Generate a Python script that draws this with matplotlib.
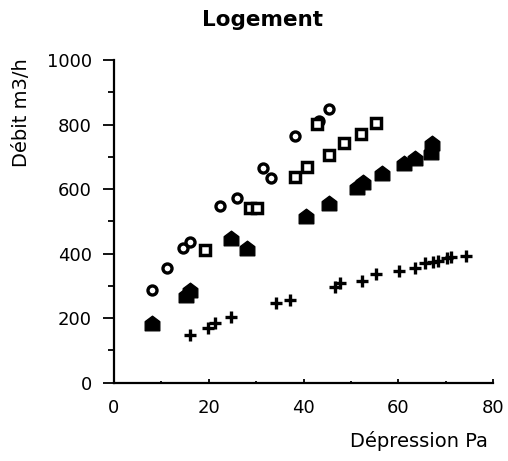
import numpy as np
import matplotlib
matplotlib.use("Agg")
import matplotlib.pyplot as plt
from matplotlib.path import Path

# values (Pa, m3/h)
circle_x = [7.95, 11.1, 14.6, 16.0, 22.4, 26.0, 31.4, 33.1, 38.2, 43.2, 45.4]
circle_y = [287, 356, 418, 437, 548, 571, 664, 633, 764, 812, 848]

square_x = [19.2, 28.7, 30.1, 38.2, 40.7, 42.9, 45.4, 48.6, 52.1, 55.4]
square_y = [411, 540, 540, 638, 669, 803, 706, 742, 770, 804]

house_x = [7.95, 15.3, 16.0, 24.8, 28.1, 40.5, 45.4, 51.2, 52.5, 56.5, 61.2, 63.5, 67.0, 67.2]
house_y = [184, 272, 287, 447, 416, 518, 556, 607, 621, 649, 680, 695, 716, 742]

plus_x = [16.0, 19.9, 21.3, 24.8, 34.2, 37.1, 46.6, 47.7, 52.3, 55.4, 60.1, 63.5,
          65.6, 67.4, 68.4, 70.2, 71.2, 74.4]
plus_y = [148, 169, 184, 205, 248, 256, 297, 308, 316, 336, 347, 354,
          370, 375, 378, 385, 390, 393]

x_ticks = [0, 20, 40, 60, 80]
y_ticks = [0, 200, 400, 600, 800, 1000]

plt.rcParams['font.family'] = ['DejaVu Sans']

# little "house" shaped marker for the filled series
house = Path([(-1, -1), (1, -1), (1, 0.25), (0, 1), (-1, 0.25), (-1, -1)],
             [Path.MOVETO, Path.LINETO, Path.LINETO, Path.LINETO, Path.LINETO, Path.CLOSEPOLY])

fig = plt.figure(figsize=(5.08, 4.61), dpi=100)
ax = fig.add_axes([0.2244, 0.1699, 0.7461, 0.6999])

ax.plot(circle_x, circle_y, 'o', ms=6.5, mfc='white', mec='black', mew=2.4, ls='none')
ax.plot(square_x, square_y, 's', ms=6.8, mfc='white', mec='black', mew=2.5, ls='none')
ax.plot(house_x, house_y, marker=house, ms=10.5, color='black', ls='none')
ax.plot(plus_x, plus_y, '+', ms=9, color='black', mew=2.4, ls='none')

ax.set_xlim(0, 80)
ax.set_ylim(0, 1000)
ax.set_xticks(x_ticks)
ax.set_xticks(np.arange(10, 80, 20), minor=True)
ax.set_yticks(y_ticks)
ax.set_yticks(np.arange(100, 1000, 200), minor=True)

for s in ['top', 'right']:
    ax.spines[s].set_visible(False)
for s in ['left', 'bottom']:
    ax.spines[s].set_linewidth(1.6)

ax.tick_params(axis='x', which='major', direction='in', length=3, width=1.3, pad=12, labelsize=13)
ax.tick_params(axis='x', which='minor', direction='in', length=1.5, width=1.3)
ax.tick_params(axis='y', which='major', direction='out', length=8, width=1.3, pad=8, labelsize=13)
ax.tick_params(axis='y', which='minor', direction='out', length=4, width=1.3)
for lab in ax.get_xticklabels() + ax.get_yticklabels():
    lab.set_fontweight('medium')

fig.text(263 / 508, 1 - 20 / 461, 'Logement', ha='center', va='center',
         fontsize=15.5, fontweight='bold')
fig.text(22 / 508, 1 - 113 / 461, 'Débit m3/h', rotation=90, ha='center', va='center',
         fontsize=14)
fig.text(488 / 508, 1 - 441 / 461, 'Dépression Pa', ha='right', va='center', fontsize=14)

fig.savefig('out.png', dpi=100)
